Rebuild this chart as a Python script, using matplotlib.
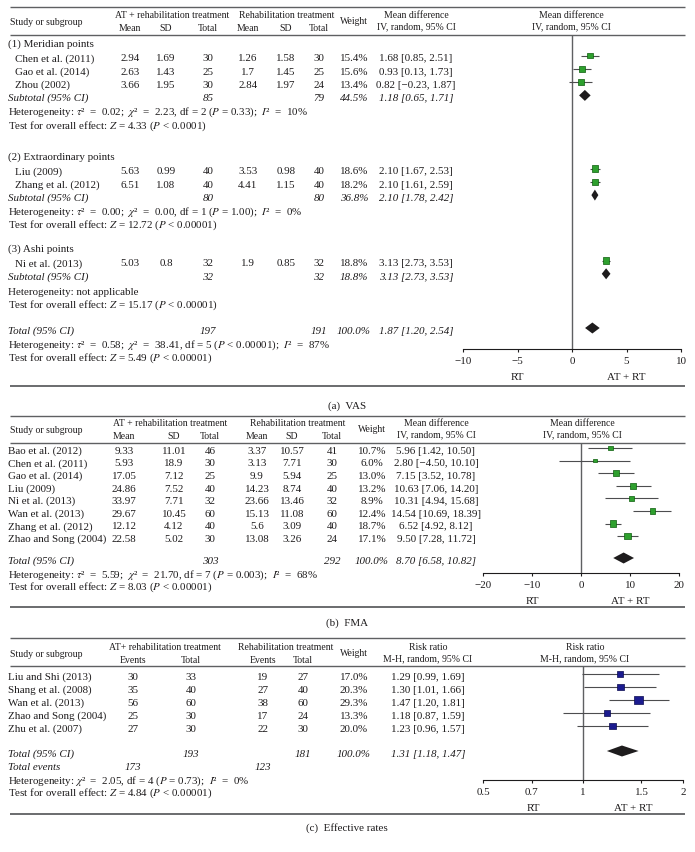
import matplotlib.pyplot as plt
from matplotlib.ticker import NullLocator

plt.rcParams["font.family"] = ["Liberation Serif", "DejaVu Serif"]
plt.rcParams["mathtext.fontset"] = "stix"

# ---- (a) VAS ----
vas_groups = ["(1) Meridian points", "(2) Extraordinary points", "(3) Ashi points"]
vas_study = ["Chen et al. (2011)", "Gao et al. (2014)", "Zhou (2002)",
             "Liu (2009)", "Zhang et al. (2012)", "Ni et al. (2013)"]
vas_group = [0, 0, 0, 1, 1, 2]
vas_at_mean = [2.94, 2.63, 3.66, 5.63, 6.51, 5.03]
vas_at_sd = [1.69, 1.43, 1.95, 0.99, 1.08, 0.8]
vas_at_n = [30, 25, 30, 40, 40, 32]
vas_rt_mean = [1.26, 1.7, 2.84, 3.53, 4.41, 1.9]
vas_rt_sd = [1.58, 1.45, 1.97, 0.98, 1.15, 0.85]
vas_rt_n = [30, 25, 24, 40, 40, 32]
vas_weight = [15.4, 15.6, 13.4, 18.6, 18.2, 18.8]
vas_md = [1.68, 0.93, 0.82, 2.10, 2.10, 3.13]
vas_lo = [0.85, 0.13, -0.23, 1.67, 1.61, 2.73]
vas_hi = [2.51, 1.73, 1.87, 2.53, 2.59, 3.53]
vas_sub_at_n = [85, 80, 32]
vas_sub_rt_n = [79, 80, 32]
vas_sub_weight = [44.5, 36.8, 18.8]
vas_sub_md = [1.18, 2.10, 3.13]
vas_sub_lo = [0.65, 1.78, 2.73]
vas_sub_hi = [1.71, 2.42, 3.53]
vas_sub_het = [
    r"Heterogeneity: $\tau$²  =  0.02;  $\chi$²  =  2.23, df = 2 ($P$ = 0.33);  $I$²  =  10%",
    r"Heterogeneity: $\tau$²  =  0.00;  $\chi$²  =  0.00, df = 1 ($P$ = 1.00);  $I$²  =  0%",
    "Heterogeneity: not applicable",
]
vas_sub_test = [
    r"Test for overall effect: $Z$ = 4.33 ($P$ < 0.0001)",
    r"Test for overall effect: $Z$ = 12.72 ($P$ < 0.00001)",
    r"Test for overall effect: $Z$ = 15.17 ($P$ < 0.00001)",
]
vas_total = [197, 191, 100.0, 1.87, 1.20, 2.54]
vas_het = r"Heterogeneity: $\tau$²  =  0.58;  $\chi$²  =  38.41, df = 5 ($P$ < 0.00001);  $I$²  =  87%"
vas_test = r"Test for overall effect: $Z$ = 5.49 ($P$ < 0.00001)"
vas_ticks = [-10, -5, 0, 5, 10]

# ---- (b) FMA ----
fma_study = ["Bao et al. (2012)", "Chen et al. (2011)", "Gao et al. (2014)", "Liu (2009)",
             "Ni et al. (2013)", "Wan et al. (2013)", "Zhang et al. (2012)", "Zhao and Song (2004)"]
fma_at_mean = [9.33, 5.93, 17.05, 24.86, 33.97, 29.67, 12.12, 22.58]
fma_at_sd = [11.01, 18.9, 7.12, 7.52, 7.71, 10.45, 4.12, 5.02]
fma_at_n = [46, 30, 25, 40, 32, 60, 40, 30]
fma_rt_mean = [3.37, 3.13, 9.9, 14.23, 23.66, 15.13, 5.6, 13.08]
fma_rt_sd = [10.57, 7.71, 5.94, 8.74, 13.46, 11.08, 3.09, 3.26]
fma_rt_n = [41, 30, 25, 40, 32, 60, 40, 24]
fma_weight = [10.7, 6.0, 13.0, 13.2, 8.9, 12.4, 18.7, 17.1]
fma_md = [5.96, 2.80, 7.15, 10.63, 10.31, 14.54, 6.52, 9.50]
fma_lo = [1.42, -4.50, 3.52, 7.06, 4.94, 10.69, 4.92, 7.28]
fma_hi = [10.50, 10.10, 10.78, 14.20, 15.68, 18.39, 8.12, 11.72]
fma_total = [303, 292, 100.0, 8.70, 6.58, 10.82]
fma_het = r"Heterogeneity: $\tau$²  =  5.59;  $\chi$²  =  21.70, df = 7 ($P$ = 0.003);  $I$²  =  68%"
fma_test = r"Test for overall effect: $Z$ = 8.03 ($P$ < 0.00001)"
fma_ticks = [-20, -10, 0, 10, 20]

# ---- (c) Effective rates ----
eff_study = ["Liu and Shi (2013)", "Shang et al. (2008)", "Wan et al. (2013)",
             "Zhao and Song (2004)", "Zhu et al. (2007)"]
eff_at_events = [30, 35, 56, 25, 27]
eff_at_n = [33, 40, 60, 30, 30]
eff_rt_events = [19, 27, 38, 17, 22]
eff_rt_n = [27, 40, 60, 24, 30]
eff_weight = [17.0, 20.3, 29.3, 13.3, 20.0]
eff_rr = [1.29, 1.30, 1.47, 1.18, 1.23]
eff_lo = [0.99, 1.01, 1.20, 0.87, 0.96]
eff_hi = [1.69, 1.66, 1.81, 1.59, 1.57]
eff_total = [193, 181, 100.0, 1.31, 1.18, 1.47]
eff_events = [173, 123]
eff_het = r"Heterogeneity: $\chi$²  =  2.05, df = 4 ($P$ = 0.73);  $I$²  =  0%"
eff_test = r"Test for overall effect: $Z$ = 4.84 ($P$ < 0.00001)"
eff_ticks = [0.5, 0.7, 1, 1.5, 2]
eff_tick_labels = ["0.5", "0.7", "1", "1.5", "2"]

W, H = 695, 852
INK = "#1e1c1d"
GREY = "#5f6062"
BODY = 7.9
HEAD = 7.0

fig = plt.figure(figsize=(W / 100, H / 100), dpi=100)
bg = fig.add_axes([0, 0, 1, 1])
bg.set_xlim(0, W)
bg.set_ylim(H, 0)
bg.axis("off")


def txt(x, y, s, size=BODY, ha="center", italic=False):
    # baseline alignment keeps rows level whether or not a line has math in it
    bg.text(x, y + 0.36 * size, s, fontsize=size, ha=ha, va="baseline", color=INK,
            style="italic" if italic else "normal")


def rule(y, lw=1.0):
    bg.plot([10, 685], [y, y], color=GREY, lw=lw, solid_capstyle="butt")


def ci(est, lo, hi):
    return ("%.2f [%.2f, %.2f]" % (est, lo, hi)).replace("-", "\u2212")


def forest_axes(x0, x1, y_top, y_axis, xlim, ticks, labels=None, log=False):
    ax = fig.add_axes([x0 / W, 1 - y_axis / H, (x1 - x0) / W, (y_axis - y_top) / H])
    ax.patch.set_alpha(0)
    if log:
        ax.set_xscale("log")
    ax.set_xlim(*xlim)
    ax.set_ylim(y_axis, y_top)
    for s in ["top", "left", "right"]:
        ax.spines[s].set_visible(False)
    ax.spines["bottom"].set_color(INK)
    ax.spines["bottom"].set_linewidth(0.8)
    ax.set_xticks(ticks)
    if labels:
        ax.set_xticklabels(labels)
    ax.xaxis.set_minor_locator(NullLocator())
    ax.tick_params(axis="x", length=2.5, width=0.8, labelsize=BODY, pad=3, colors=INK)
    ax.set_yticks([])
    ax.axvline(1 if log else 0, color=GREY, lw=1.0)
    txt(x0 + 0.25 * (x1 - x0), y_axis + 28, "RT")
    txt(x0 + 0.75 * (x1 - x0), y_axis + 28, "AT + RT")
    return ax


def squares(ax, est, lo, hi, ys, weight, color, edge):
    ym = [y - 3 for y in ys]
    ax.hlines(ym, lo, hi, color="#4d4d4f", lw=0.8, zorder=2)
    ax.scatter(est, ym, s=[(1.1 * w ** 0.5) ** 2 for w in weight], marker="s",
               c=color, edgecolors=edge, linewidths=0.5, zorder=3)


def diamond(ax, y, est, lo, hi, h=5.5):
    ax.fill([lo, est, hi, est], [y - 3, y - 3 - h, y - 3, y - 3 + h], color=INK, lw=0, zorder=3)


def header(y_top, y_mid, y_rule, cols_at, cols_rt, at_title, sub_labels, x_w, x_es, x_fp,
           es_title, es_sub):
    rule(y_top)
    txt(10, y_mid, "Study or subgroup", HEAD, ha="left")
    txt((cols_at[0] + cols_at[-1]) / 2 + 3, y_mid - 6.5, at_title, HEAD)
    txt((cols_rt[0] + cols_rt[-1]) / 2 + 3, y_mid - 6.5, "Rehabilitation treatment", HEAD)
    for x, s in zip(cols_at + cols_rt, sub_labels + sub_labels):
        txt(x, y_mid + 6, s, HEAD)
    txt(x_w, y_mid - 1, "Weight", HEAD)
    txt(x_es, y_mid - 6.5, es_title, HEAD)
    txt(x_es, y_mid + 5, es_sub, HEAD)
    txt(x_fp, y_mid - 6.5, es_title, HEAD)
    txt(x_fp, y_mid + 5, es_sub, HEAD)
    rule(y_rule)


# ================= panel (a) =================
a_cols_at = [130, 166, 208]
a_cols_rt = [248, 286, 319]
header(7, 22, 35, a_cols_at, a_cols_rt, "AT + rehabilitation treatment",
       ["Mean", "SD", "Total"], 354, 416, 571, "Mean difference", "IV, random, 95% CI")
ax_a = forest_axes(463, 681, 35, 349, (-10, 10), vas_ticks)

group_top = [44, 157, 249]
step = 13.3
study_y = []
for g in range(3):
    y = group_top[g]
    txt(8, y, vas_groups[g], ha="left")
    idx = [i for i in range(len(vas_study)) if vas_group[i] == g]
    y += 14.5
    for i in idx:
        txt(15, y, vas_study[i], ha="left")
        vals = [vas_at_mean[i], vas_at_sd[i], vas_at_n[i], vas_rt_mean[i], vas_rt_sd[i], vas_rt_n[i]]
        for x, v in zip(a_cols_at + a_cols_rt, vals):
            txt(x, y, str(v))
        txt(354, y, "%.1f%%" % vas_weight[i])
        txt(416, y, ci(vas_md[i], vas_lo[i], vas_hi[i]))
        study_y.append(y)
        y += step
    txt(8, y, "Subtotal (95% CI)", ha="left", italic=True)
    txt(208, y, str(vas_sub_at_n[g]), italic=True)
    txt(319, y, str(vas_sub_rt_n[g]), italic=True)
    txt(354, y, "%.1f%%" % vas_sub_weight[g], italic=True)
    txt(416, y, ci(vas_sub_md[g], vas_sub_lo[g], vas_sub_hi[g]), italic=True)
    diamond(ax_a, y, vas_sub_md[g], vas_sub_lo[g], vas_sub_hi[g])
    y += 15 if g == 2 else 14
    txt(8, y, vas_sub_het[g], ha="left")
    y += 13.3
    txt(8, y, vas_sub_test[g], ha="left")

squares(ax_a, vas_md, vas_lo, vas_hi, study_y, vas_weight, "#2ea02e", "#0b5d0b")

y = 331
txt(8, y, "Total (95% CI)", ha="left", italic=True)
txt(208, y, str(vas_total[0]), italic=True)
txt(319, y, str(vas_total[1]), italic=True)
txt(354, y, "%.1f%%" % vas_total[2], italic=True)
txt(416, y, ci(*vas_total[3:]), italic=True)
diamond(ax_a, y, *vas_total[3:])
txt(8, y + 13.5, vas_het, ha="left")
txt(8, y + 26.5, vas_test, ha="left")
rule(386, 1.3)
txt(347, 406, "(a)  VAS")

# ================= panel (b) =================
b_cols_at = [124, 174, 210]
b_cols_rt = [257, 292, 332]
header(416, 430, 443, b_cols_at, b_cols_rt, "AT + rehabilitation treatment",
       ["Mean", "SD", "Total"], 372, 436, 582, "Mean difference", "IV, random, 95% CI")
ax_b = forest_axes(483, 679, 443, 573, (-20, 20), fma_ticks)
b_y = [451 + 12.6 * i for i in range(len(fma_study))]
for i, y in enumerate(b_y):
    txt(8, y, fma_study[i], ha="left")
    vals = [fma_at_mean[i], fma_at_sd[i], fma_at_n[i], fma_rt_mean[i], fma_rt_sd[i], fma_rt_n[i]]
    for x, v in zip(b_cols_at + b_cols_rt, vals):
        txt(x, y, str(v))
    txt(372, y, "%.1f%%" % fma_weight[i])
    txt(436, y, ci(fma_md[i], fma_lo[i], fma_hi[i]))
squares(ax_b, fma_md, fma_lo, fma_hi, b_y, fma_weight, "#2ea02e", "#0b5d0b")
y = 561
txt(8, y, "Total (95% CI)", ha="left", italic=True)
txt(210, y, str(fma_total[0]), italic=True)
txt(332, y, str(fma_total[1]), italic=True)
txt(372, y, "%.1f%%" % fma_total[2], italic=True)
txt(436, y, ci(*fma_total[3:]), italic=True)
diamond(ax_b, y, *fma_total[3:])
txt(8, y + 13.5, fma_het, ha="left")
txt(8, y + 26, fma_test, ha="left")
rule(607, 1.3)
txt(347, 623, "(b)  FMA")

# ================= panel (c) =================
c_cols_at = [133, 191]
c_cols_rt = [263, 303]
header(638, 654, 666, c_cols_at, c_cols_rt, "AT+ rehabilitation treatment",
       ["Events", "Total"], 354, 428, 585, "Risk ratio", "M-H, random, 95% CI")
ax_c = forest_axes(483, 683, 666, 780, (0.5, 2), eff_ticks, eff_tick_labels, log=True)
c_y = [677 + 13 * i for i in range(len(eff_study))]
for i, y in enumerate(c_y):
    txt(8, y, eff_study[i], ha="left")
    vals = [eff_at_events[i], eff_at_n[i], eff_rt_events[i], eff_rt_n[i]]
    for x, v in zip(c_cols_at + c_cols_rt, vals):
        txt(x, y, str(v))
    txt(354, y, "%.1f%%" % eff_weight[i])
    txt(428, y, ci(eff_rr[i], eff_lo[i], eff_hi[i]))
squares(ax_c, eff_rr, eff_lo, eff_hi, c_y, eff_weight, "#1b1b8f", "#0a0a50")
y = 754
txt(8, y, "Total (95% CI)", ha="left", italic=True)
txt(191, y, str(eff_total[0]), italic=True)
txt(303, y, str(eff_total[1]), italic=True)
txt(354, y, "%.1f%%" % eff_total[2], italic=True)
txt(428, y, ci(*eff_total[3:]), italic=True)
diamond(ax_c, y, *eff_total[3:])
txt(8, y + 13.5, "Total events", ha="left", italic=True)
txt(133, y + 13.5, str(eff_events[0]), italic=True)
txt(263, y + 13.5, str(eff_events[1]), italic=True)
txt(8, y + 26.5, eff_het, ha="left")
txt(8, y + 39, eff_test, ha="left")
rule(814, 1.3)
txt(347, 828, "(c)  Effective rates")

fig.savefig("out.png", dpi=100)
